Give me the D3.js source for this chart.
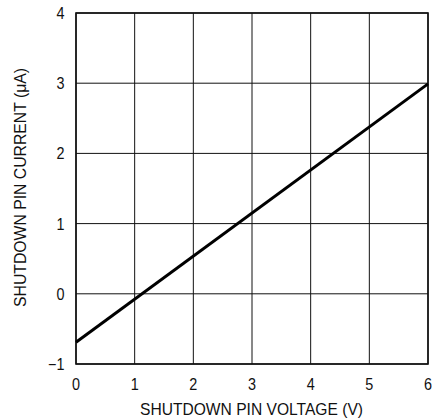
<!DOCTYPE html>
<html><head><meta charset="utf-8">
<script src="https://cdn.jsdelivr.net/npm/d3@7"></script>
<style>body{margin:0;background:#fff}text{font-family:"Liberation Sans Narrow","Arial Narrow","Liberation Sans",sans-serif;fill:#111}</style>
</head><body><svg id="c" width="432" height="418"></svg>
<script>
const xTicks=[0,1,2,3,4,5,6];
const yTicks=[-1,0,1,2,3,4];
const lineX=[0,6];
const lineY=[-0.69,2.99];
const xTitle="SHUTDOWN PIN VOLTAGE (V)";
const yTitle="SHUTDOWN PIN CURRENT (\u03bcA)";

const svg=d3.select("#c");
const L=76,R=428,T=13,B=364;
const x=d3.scaleLinear().domain([0,6]).range([L,R]);
const y=d3.scaleLinear().domain([-1,4]).range([B,T]);
const g=svg.append("g");
g.selectAll(".vx").data(xTicks).join("line").attr("x1",d=>x(d)).attr("x2",d=>x(d)).attr("y1",T).attr("y2",B).attr("stroke","#111").attr("stroke-width",1);
g.selectAll(".hy").data(yTicks).join("line").attr("y1",d=>y(d)).attr("y2",d=>y(d)).attr("x1",L).attr("x2",R).attr("stroke","#111").attr("stroke-width",1);
g.append("rect").attr("x",L).attr("y",T).attr("width",R-L).attr("height",B-T).attr("fill","none").attr("stroke","#111").attr("stroke-width",1.6);
const pts=lineX.map((v,i)=>[v,lineY[i]]);
g.append("path").attr("d",d3.line().x(d=>x(d[0])).y(d=>y(d[1]))(pts)).attr("stroke","#000").attr("stroke-width",3).attr("fill","none");
svg.selectAll(".xt").data(xTicks).join("text").attr("transform",d=>`translate(${x(d)},390) scale(0.9,1)`).attr("text-anchor","middle").attr("font-size",16).text(d=>d);
svg.selectAll(".yt").data(yTicks).join("text").attr("transform",d=>`translate(64.5,${y(d)+6}) scale(0.9,1)`).attr("text-anchor","end").attr("font-size",16).text(d=>d<0?"\u2212"+(-d):d);
svg.append("text").attr("x",140).attr("y",414.5).attr("font-size",16.5).attr("textLength",223).attr("lengthAdjust","spacingAndGlyphs").text(xTitle);
svg.append("text").attr("transform",`translate(25.5,307) rotate(-90)`).attr("font-size",16.5).attr("textLength",239).attr("lengthAdjust","spacingAndGlyphs").text(yTitle);
</script></body></html>
